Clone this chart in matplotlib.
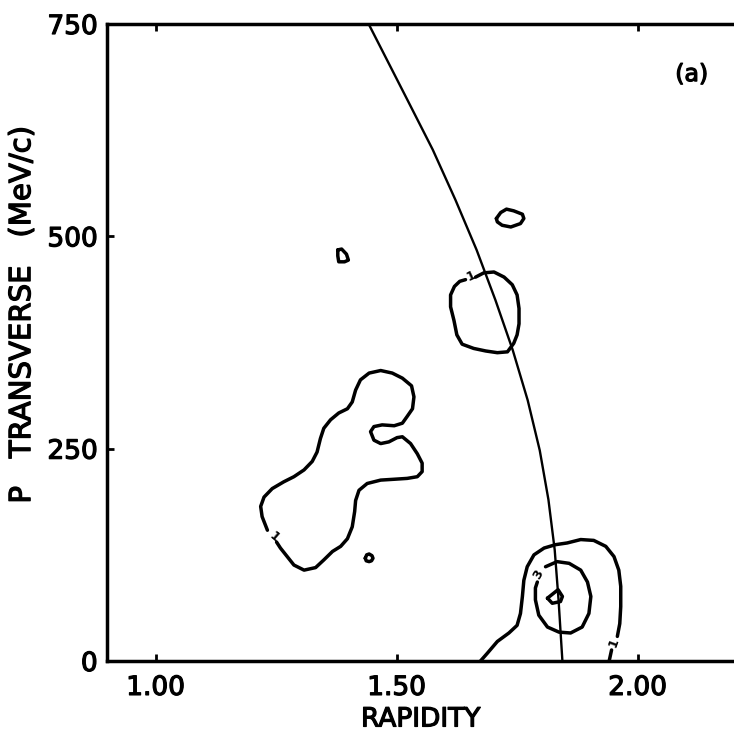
#pt vs rapidity contour map with the kinematic limit curve

import matplotlib
matplotlib.use("Agg")
import matplotlib.pyplot as plt
import matplotlib.patheffects as pe

# kinematic boundary (rapidity, MeV/c)
limit_y = [1.442, 1.523, 1.575, 1.622, 1.666, 1.705, 1.741, 1.772, 1.797, 1.815, 1.828, 1.836, 1.844]
limit_pt = [750, 660, 602, 543, 484, 425, 366, 307, 248, 190, 131, 72, 0]

# level 1 contour, large lobe on the left (open at its label)
lobe_y = [1.232, 1.221, 1.218, 1.225, 1.242, 1.266, 1.287, 1.308, 1.325, 1.335, 1.342, 1.349,
          1.363, 1.380, 1.398, 1.408, 1.415, 1.425, 1.443, 1.467, 1.491, 1.512, 1.531, 1.536,
          1.533, 1.522, 1.512, 1.495, 1.470, 1.453, 1.446, 1.453, 1.467, 1.484, 1.501, 1.512,
          1.529, 1.543, 1.553, 1.553, 1.543, 1.522, 1.495, 1.467, 1.439, 1.422, 1.415, 1.413,
          1.408, 1.398, 1.384, 1.367, 1.349, 1.332, 1.308, 1.287, 1.273, 1.259, 1.251]
lobe_pt = [154, 170, 182, 193, 203, 211, 217, 225, 235, 246, 262, 274,
           284, 292, 297, 305, 319, 331, 339, 342, 339, 333, 324, 311,
           297, 288, 280, 277, 278, 276, 270, 260, 256, 258, 263, 264,
           256, 244, 233, 223, 217, 215, 214, 213, 209, 201, 189, 176,
           158, 144, 135, 129, 119, 110, 107, 113, 123, 133, 140]

# level 1 contour crossing the boundary near 400 MeV/c
ring_y = [1.664, 1.681, 1.702, 1.723, 1.740, 1.750, 1.754, 1.754, 1.750, 1.743, 1.730,
          1.709, 1.685, 1.660, 1.636, 1.625, 1.619, 1.612, 1.612, 1.620, 1.631, 1.643]
ring_pt = [452, 457, 458, 452, 443, 431, 415, 397, 384, 374, 364,
           363, 365, 368, 373, 384, 401, 417, 431, 441, 447, 449]

# level 1 contour around the peak at the bottom
outer_y = [1.674, 1.688, 1.709, 1.733, 1.750, 1.757, 1.761, 1.764, 1.771, 1.785, 1.806,
           1.830, 1.854, 1.882, 1.909, 1.934, 1.951, 1.961, 1.965, 1.965, 1.963, 1.958]
outer_pt = [0, 9, 23, 33, 42, 56, 76, 95, 111, 125, 133,
            137, 139, 143, 142, 135, 123, 107, 88, 64, 44, 29]
outer_tail_y = [1.946, 1.941]
outer_tail_pt = [13, 0]

# level 3 contour
mid_y = [1.809, 1.833, 1.858, 1.882, 1.896, 1.903, 1.899, 1.885, 1.861, 1.837, 1.813,
         1.795, 1.788, 1.788, 1.792]
mid_pt = [111, 117, 115, 107, 93, 76, 56, 40, 33, 34, 40, 54, 72, 86, 93]

# innermost level at the peak
peak_y = [1.813, 1.835, 1.844, 1.840, 1.823, 1.813]
peak_pt = [74, 84, 76, 70, 68, 74]

# small isolated islands
isl1_y = [1.378, 1.386, 1.396, 1.400, 1.392, 1.380, 1.378, 1.378]
isl1_pt = [484, 485, 479, 472, 470, 470, 477, 484]
isl2_y = [1.435, 1.438, 1.443, 1.449, 1.451, 1.448, 1.443, 1.437, 1.435]
isl2_pt = [121, 125, 126, 124, 121, 118, 117, 118, 121]
isl3_y = [1.707, 1.716, 1.728, 1.743, 1.761, 1.764, 1.757, 1.737, 1.719, 1.709, 1.707]
isl3_pt = [521, 528, 532, 530, 526, 521, 515, 511, 513, 517, 521]

# contour labels: (rapidity, pt, text, angle)
labels = [(1.247, 146, "1", -40), (1.655, 453, "1", 25),
          (1.951, 21, "1", 70), (1.795, 102, "3", 60)]

xticks = [1.0, 1.5, 2.0]
xticklabels = ["1.00", "1.50", "2.00"]
yticks = [0, 250, 500, 750]

heavy = [pe.withStroke(linewidth=0.9, foreground="black")]

fig = plt.figure(figsize=(7.34, 7.33), dpi=100)
ax = fig.add_axes([0.1463, 0.0982, 0.8537, 0.8691])

ax.plot(limit_y, limit_pt, color="black", lw=1.7)

cw = 2.5
for xs, ys in [(lobe_y, lobe_pt), (ring_y, ring_pt), (outer_y, outer_pt),
               (outer_tail_y, outer_tail_pt), (mid_y, mid_pt), (peak_y, peak_pt),
               (isl1_y, isl1_pt), (isl2_y, isl2_pt), (isl3_y, isl3_pt)]:
    ax.plot(xs, ys, color="black", lw=cw, solid_capstyle="round", solid_joinstyle="round")

for lx, ly, txt, ang in labels:
    ax.text(lx, ly, txt, rotation=ang, fontsize=9, fontweight="bold",
            ha="center", va="center")

ax.text(2.112, 691, "(a)", fontsize=17, ha="center", va="center", path_effects=heavy)

ax.set_xlim(0.9, 2.2)
ax.set_ylim(0, 750)
ax.set_xticks(xticks)
ax.set_xticklabels(xticklabels)
ax.set_yticks(yticks)
ax.tick_params(direction="in", length=5, width=2, labelsize=19, top=True, pad=7)
ax.tick_params(axis="x", pad=10)
ax.spines["right"].set_visible(False)
for s in ["left", "bottom", "top"]:
    ax.spines[s].set_linewidth(2.5)
for t in ax.get_xticklabels() + ax.get_yticklabels():
    t.set_path_effects(heavy)

ax.set_xlabel("RAPIDITY", fontsize=19, labelpad=4, path_effects=heavy)
ax.set_ylabel("P   TRANSVERSE   (MeV/c)", fontsize=21, path_effects=heavy)
ax.yaxis.label.set_va("center")
ax.yaxis.set_label_coords(-0.136, 0.543)

fig.savefig("out.png", dpi=100)
